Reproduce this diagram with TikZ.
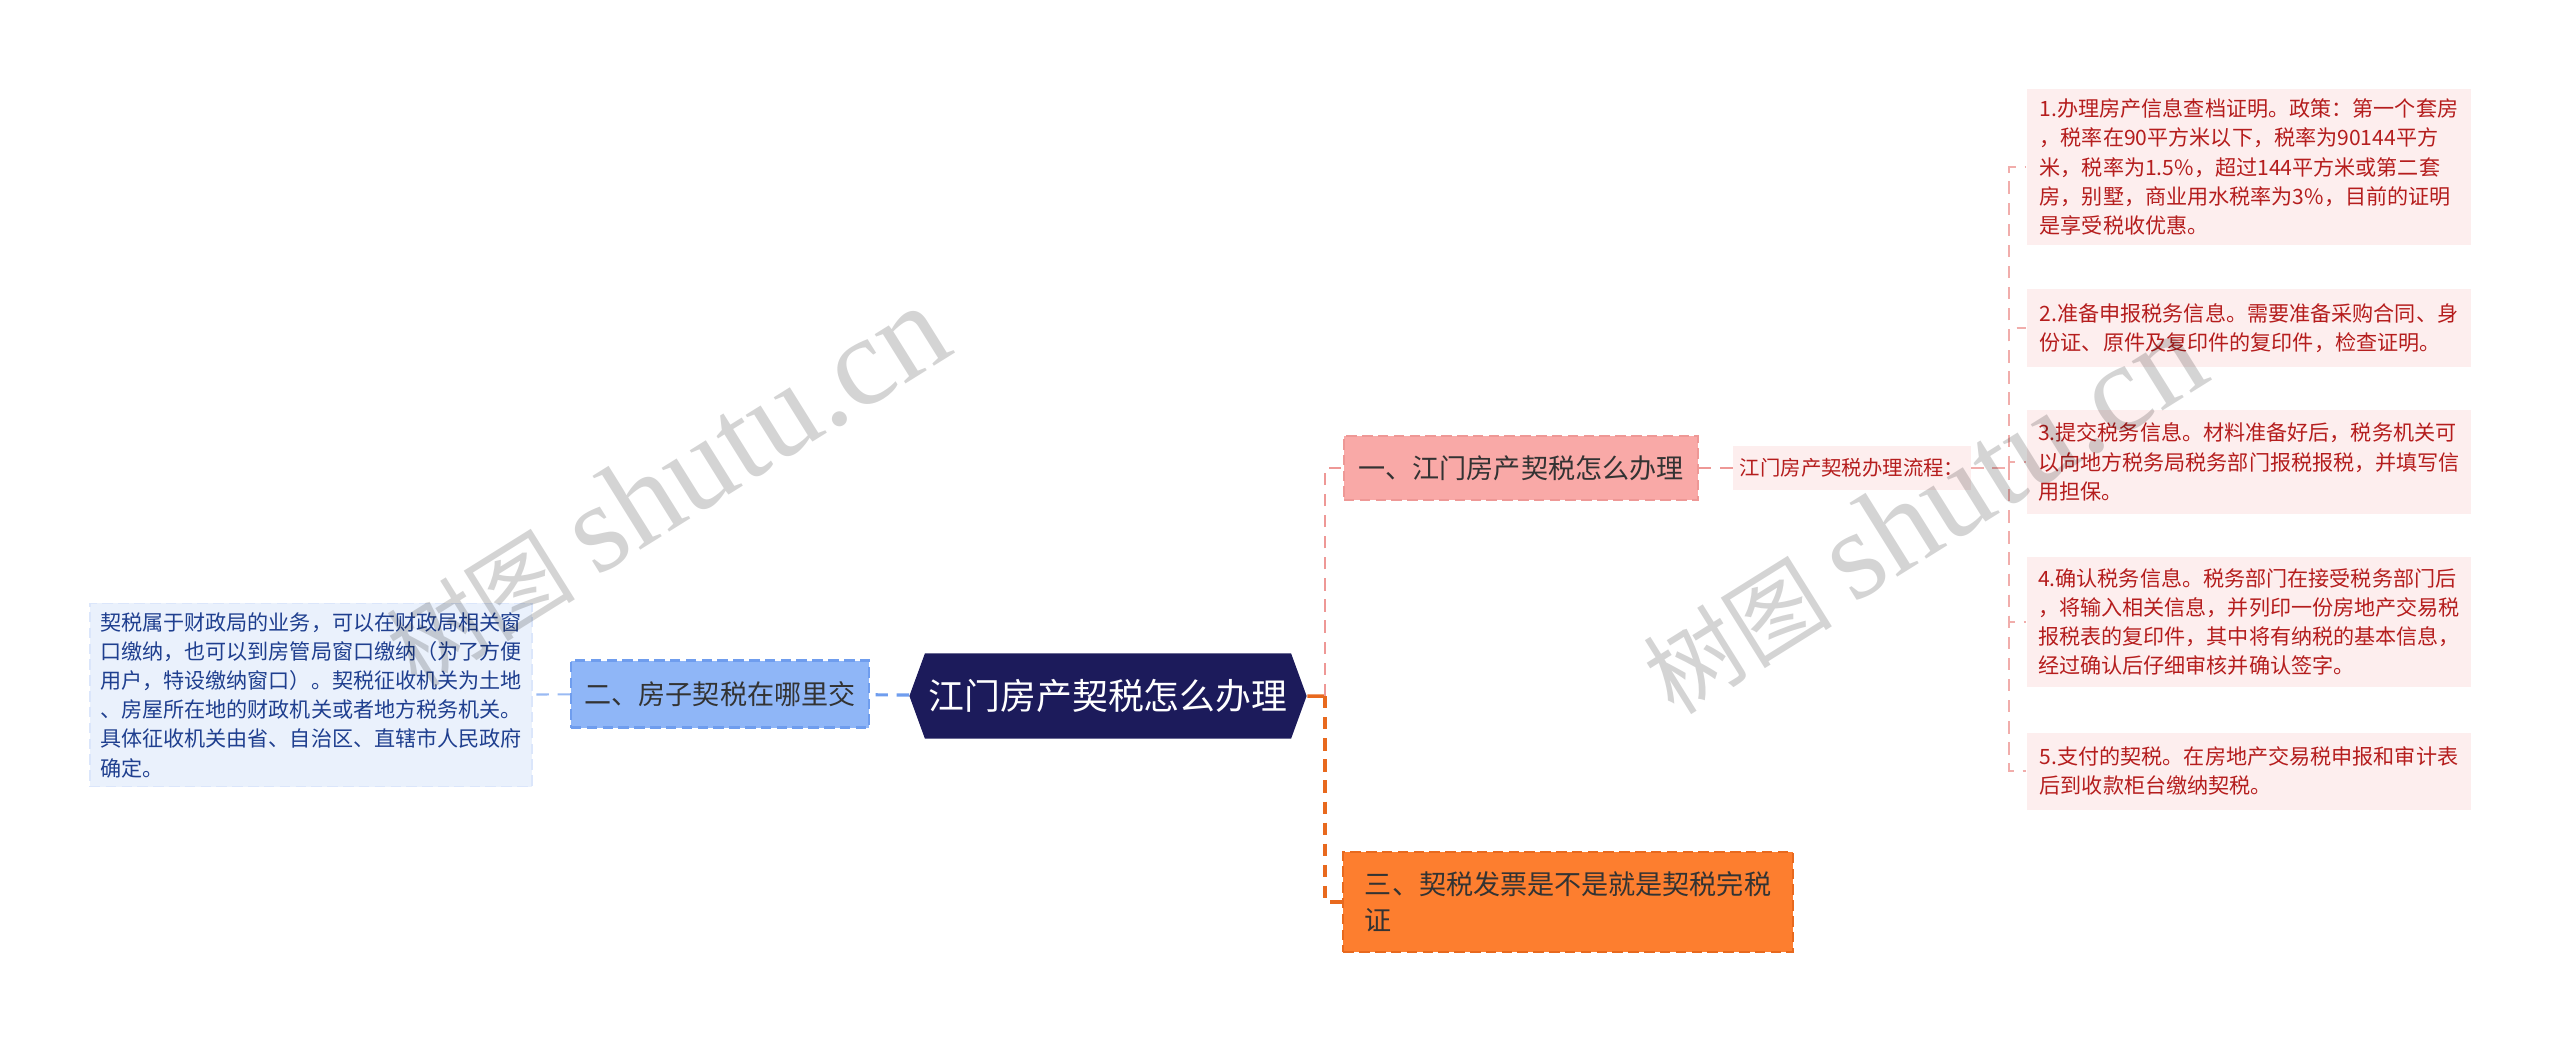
\documentclass[tikz,border=0pt]{standalone}
\usepackage{fontspec}
\setmainfont{Noto Sans CJK SC}
\newfontfamily\wmlatin{Liberation Serif}
\usetikzlibrary{positioning,shapes.symbols}
\definecolor{rootblue}{HTML}{1C1B5B}
\definecolor{topicgray}{HTML}{333333}
\definecolor{pinkfill}{HTML}{F9A9A7}
\definecolor{pinkline}{HTML}{EE9896}
\definecolor{bluefill}{HTML}{8FB6F7}
\definecolor{blueline}{HTML}{6F9DEE}
\definecolor{orangefill}{HTML}{FD7E2F}
\definecolor{orangeline}{HTML}{E8691E}
\definecolor{leafpink}{HTML}{FDEEEE}
\definecolor{leafred}{HTML}{B51D1D}
\definecolor{leafblue}{HTML}{EAF1FC}
\definecolor{leafbluetext}{HTML}{1F3F8F}
\tikzset{font=\fontsize{6pt}{8.3pt}\selectfont}
\tikzset{
	rootnode/.style={shape=signal, signal to=west and east, signal pointer angle=140, fill=rootblue, text=white, font=\fontsize{10.2pt}{12pt}\selectfont, minimum width=3.97cm, minimum height=0.85cm},
	topic/.style={draw, dash pattern=on 3pt off 1.5pt, line width=0.6pt, text=topicgray, font=\fontsize{7.7pt}{10.2pt}\selectfont},
	leaf/.style={fill=leafpink, text=leafred, minimum width=4.44cm},
	link/.style={dash pattern=on 3.5pt off 2.5pt, line width=0.6pt},
	watermark/.style={rotate=32, text=black, text opacity=0.17}
}

\begin{document}
\begin{tikzpicture}[x=0.01cm, y=-0.01cm]
	\tikzstyle{every node}=[inner sep=0pt, align=left]
	\useasboundingbox (0, 0) rectangle (2560, 1044);

	\node (root) at (1108, 696) [rootnode] {江门房产契税怎么办理};

	\node (where) at (720, 694) [topic, fill=bluefill, draw=blueline, minimum width=2.98cm, minimum height=0.67cm] {二、房子契税在哪里交};
	\node (whereinfo) at (311, 695) [fill=leafblue, draw=blueline!25, dash pattern=on 3pt off 1.5pt, text=leafbluetext, minimum width=4.42cm, minimum height=1.83cm] {契税属于财政局的业务，可以在财政局相关窗\\口缴纳，也可以到房管局窗口缴纳（为了方便\\用户，特设缴纳窗口）。契税征收机关为土地\\、房屋所在地的财政机关或者地方税务机关。\\具体征收机关由省、自治区、直辖市人民政府\\确定。};

	\node (how) at (1521, 468) [topic, fill=pinkfill, draw=pinkline, minimum width=3.54cm, minimum height=0.64cm] {一、江门房产契税怎么办理};
	\node (flow) at (1852, 468) [fill=leafpink, text=leafred, font=\fontsize{5.8pt}{7pt}\selectfont, minimum width=2.37cm, minimum height=0.44cm] {江门房产契税办理流程：};

	\node (step1) at (2249, 167) [leaf, minimum height=1.55cm] {1.办理房产信息查档证明。政策：第一个套房\\，税率在90平方米以下，税率为90144平方\\米，税率为1.5\%，超过144平方米或第二套\\房，别墅，商业用水税率为3\%，目前的证明\\是享受税收优惠。};
	\node (step2) at (2249, 328) [leaf, minimum height=0.78cm] {2.准备申报税务信息。需要准备采购合同、身\\份证、原件及复印件的复印件，检查证明。};
	\node (step3) at (2249, 462) [leaf, minimum height=1.04cm] {3.提交税务信息。材料准备好后，税务机关可\\以向地方税务局税务部门报税报税，并填写信\\用担保。};
	\node (step4) at (2249, 622) [leaf, minimum height=1.29cm] {4.确认税务信息。税务部门在接受税务部门后\\，将输入相关信息，并列印一份房地产交易税\\报税表的复印件，其中将有纳税的基本信息，\\经过确认后仔细审核并确认签字。};
	\node (step5) at (2249, 771) [leaf, minimum height=0.77cm] {5.支付的契税。在房地产交易税申报和审计表\\后到收款柜台缴纳契税。};

	\node (invoice) at (1568, 902) [topic, fill=orangefill, draw=orangeline, minimum width=4.49cm, minimum height=1cm] {三、契税发票是不是就是契税完税\\证};

	\coordinate (rj) at (1325, 696);
	\coordinate (fj) at (2009, 468);

	\draw [orangeline, line width=1pt] (root) -- (rj);
	\draw [link, pinkline] (rj) |- (how);
	\draw [link, orangeline, line width=0.9pt] (rj) |- (invoice);
	\draw [link, blueline, line width=0.9pt] (root) -- (where);
	\draw [link, blueline!70] (where) -- (whereinfo);
	\draw [link, pinkline] (how) -- (flow);
	\draw [link, pinkline!80] (flow) -- (fj);
	\draw [link, pinkline!80] (fj) |- (step1);
	\draw [link, pinkline!80] (fj) |- (step2);
	\draw [link, pinkline!80] (fj) |- (step3);
	\draw [link, pinkline!80] (fj) |- (step4);
	\draw [link, pinkline!80] (fj) |- (step5);

	\node (wm1) at (666, 487) [watermark] {\fontsize{27pt}{30pt}\selectfont 树图 {\wmlatin\fontsize{36pt}{40pt}\selectfont shutu.cn}};
	\node (wm2) at (1923, 514) [watermark] {\fontsize{27pt}{30pt}\selectfont 树图 {\wmlatin\fontsize{36pt}{40pt}\selectfont shutu.cn}};
\end{tikzpicture}
\end{document}
